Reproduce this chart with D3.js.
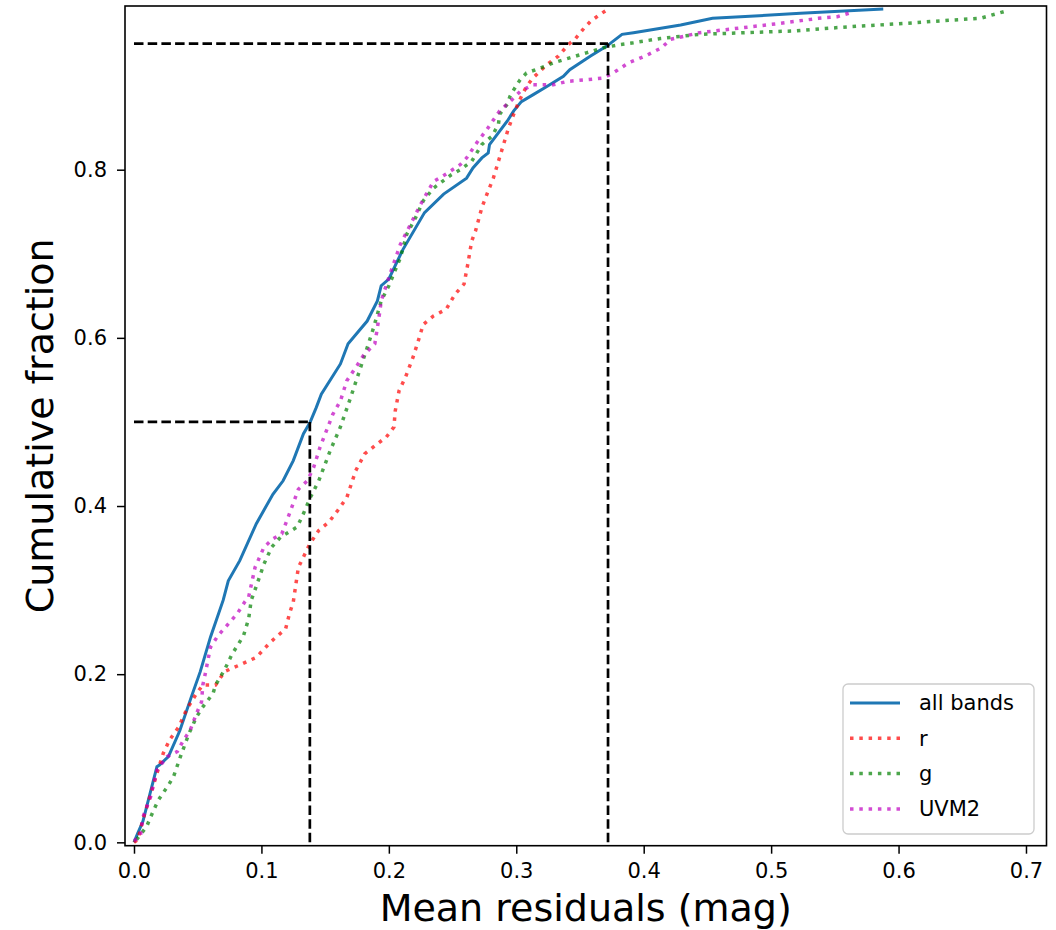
<!DOCTYPE html>
<html>
<head>
<meta charset="utf-8">
<script src="https://cdn.jsdelivr.net/npm/d3@7"></script>
<style>
  body { margin: 0; background: #fff; }
  svg { display: block; font-family: "DejaVu Sans", sans-serif; }
</style>
</head>
<body>
<div id="chart"></div>
<script>
// cumulative fraction vs mean residual
const allBands = [[0,0],[0.003,0.011],[0.007,0.025],[0.018,0.090],[0.020,0.092],[0.027,0.102],[0.036,0.133],[0.045,0.173],[0.052,0.203],[0.060,0.244],[0.070,0.288],[0.074,0.311],[0.083,0.335],[0.096,0.379],[0.109,0.414],[0.117,0.430],[0.125,0.454],[0.133,0.486],[0.138,0.499],[0.143,0.517],[0.147,0.533],[0.162,0.569],[0.168,0.593],[0.183,0.620],[0.191,0.644],[0.194,0.662],[0.200,0.670],[0.211,0.705],[0.228,0.749],[0.243,0.771],[0.261,0.790],[0.266,0.802],[0.273,0.814],[0.278,0.820],[0.279,0.830],[0.293,0.858],[0.298,0.870],[0.304,0.881],[0.313,0.889],[0.324,0.899],[0.337,0.911],[0.342,0.919],[0.358,0.935],[0.371,0.947],[0.383,0.961],[0.392,0.963],[0.429,0.972],[0.454,0.980],[0.523,0.986],[0.588,0.991]];
const rBand = [[0,0],[0.003,0.003],[0.007,0.027],[0.018,0.082],[0.023,0.106],[0.028,0.122],[0.035,0.137],[0.041,0.157],[0.049,0.177],[0.054,0.187],[0.064,0.187],[0.071,0.203],[0.083,0.211],[0.096,0.220],[0.107,0.238],[0.119,0.254],[0.122,0.272],[0.125,0.286],[0.129,0.327],[0.138,0.355],[0.145,0.371],[0.153,0.381],[0.160,0.395],[0.167,0.410],[0.174,0.442],[0.181,0.462],[0.191,0.474],[0.198,0.482],[0.204,0.494],[0.205,0.513],[0.208,0.537],[0.213,0.553],[0.219,0.577],[0.223,0.596],[0.227,0.616],[0.235,0.626],[0.245,0.634],[0.252,0.652],[0.259,0.664],[0.262,0.688],[0.265,0.715],[0.268,0.727],[0.273,0.755],[0.277,0.771],[0.282,0.790],[0.286,0.810],[0.290,0.830],[0.294,0.850],[0.298,0.866],[0.302,0.881],[0.308,0.899],[0.313,0.909],[0.324,0.925],[0.333,0.935],[0.341,0.949],[0.346,0.955],[0.353,0.968],[0.358,0.976],[0.365,0.984],[0.371,0.990]];
const gBand = [[0.002,0.003],[0.010,0.019],[0.013,0.030],[0.019,0.050],[0.027,0.068],[0.031,0.078],[0.036,0.100],[0.043,0.129],[0.049,0.149],[0.053,0.159],[0.062,0.177],[0.064,0.187],[0.071,0.205],[0.077,0.224],[0.082,0.236],[0.086,0.246],[0.090,0.266],[0.092,0.288],[0.094,0.296],[0.102,0.331],[0.108,0.351],[0.115,0.363],[0.128,0.375],[0.133,0.391],[0.138,0.409],[0.145,0.430],[0.154,0.466],[0.162,0.494],[0.170,0.529],[0.177,0.561],[0.184,0.593],[0.188,0.612],[0.194,0.644],[0.200,0.662],[0.209,0.695],[0.214,0.723],[0.221,0.743],[0.227,0.763],[0.235,0.778],[0.249,0.794],[0.256,0.800],[0.265,0.810],[0.273,0.830],[0.281,0.840],[0.286,0.854],[0.287,0.866],[0.293,0.878],[0.295,0.887],[0.298,0.895],[0.303,0.907],[0.308,0.915],[0.319,0.921],[0.329,0.927],[0.342,0.933],[0.355,0.939],[0.368,0.945],[0.382,0.949],[0.392,0.951],[0.413,0.956],[0.444,0.961],[0.517,0.965],[0.561,0.970],[0.605,0.974],[0.642,0.978],[0.664,0.980],[0.671,0.983],[0.678,0.986],[0.685,0.989]];
const uvm2Band = [[0,0.002],[0.005,0.007],[0.007,0.030],[0.013,0.054],[0.018,0.086],[0.026,0.102],[0.034,0.108],[0.039,0.122],[0.044,0.133],[0.049,0.153],[0.053,0.167],[0.054,0.187],[0.056,0.201],[0.060,0.232],[0.066,0.246],[0.073,0.258],[0.081,0.272],[0.087,0.286],[0.090,0.292],[0.095,0.327],[0.102,0.351],[0.109,0.361],[0.116,0.367],[0.122,0.391],[0.129,0.420],[0.136,0.430],[0.141,0.446],[0.146,0.470],[0.156,0.509],[0.162,0.525],[0.167,0.549],[0.175,0.567],[0.180,0.579],[0.189,0.593],[0.191,0.612],[0.193,0.632],[0.194,0.644],[0.200,0.672],[0.209,0.711],[0.217,0.735],[0.225,0.759],[0.235,0.786],[0.244,0.794],[0.256,0.806],[0.261,0.814],[0.269,0.832],[0.277,0.848],[0.287,0.870],[0.295,0.881],[0.303,0.893],[0.313,0.901],[0.329,0.901],[0.340,0.905],[0.355,0.907],[0.368,0.909],[0.376,0.915],[0.388,0.927],[0.401,0.935],[0.414,0.945],[0.421,0.955],[0.444,0.963],[0.507,0.974],[0.537,0.980],[0.552,0.982],[0.565,0.988]];

// dashed guide lines: fraction level -> residual
const guideLevels = [0.5, 0.95];
const guideResiduals = [0.138, 0.372];

const seriesNames = ["all bands", "r", "g", "UVM2"];
const seriesColors = ["#1f77b4", "#ff0000", "#008000", "#bf00bf"];
const xTicks = [0, 0.1, 0.2, 0.3, 0.4, 0.5, 0.6, 0.7];
const yTicks = [0, 0.2, 0.4, 0.6, 0.8];

const W = 1056, H = 930;
const margin = { top: 6, right: 9.5, bottom: 84.3, left: 125 };
const width = W - margin.left - margin.right,
  height = H - margin.top - margin.bottom;

const svg = d3.select("#chart").append("svg")
  .attr("width", W)
  .attr("height", H);

const g = svg.append("g")
  .attr("transform", "translate(" + margin.left + "," + margin.top + ")");

const x = d3.scaleLinear().domain([-0.00706, 0.7161]).range([0, width]);
const y = d3.scaleLinear().domain([-0.004, 0.9947]).range([height, 0]);

g.append("defs").append("clipPath")
  .attr("id", "clip")
  .append("rect")
  .attr("width", width)
  .attr("height", height);

const plot = g.append("g").attr("clip-path", "url(#clip)");

const line = d3.line()
  .x(d => x(d[0]))
  .y(d => y(d[1]));

const data = [allBands, rBand, gBand, uvm2Band];

// solid line first, dotted bands over it
data.forEach(function(d, i) {
  const p = plot.append("path")
    .datum(d)
    .attr("d", line)
    .attr("fill", "none")
    .attr("stroke", seriesColors[i]);
  if (i === 0) {
    p.attr("stroke-width", 3);
  } else {
    p.attr("stroke-width", 3.5)
      .attr("stroke-opacity", 0.7)
      .attr("stroke-dasharray", "3.5,5.8");
  }
});

// dashed guides
guideLevels.forEach(function(lv, i) {
  plot.append("line")
    .attr("x1", x(0)).attr("x2", x(guideResiduals[i]))
    .attr("y1", y(lv)).attr("y2", y(lv))
    .attr("stroke", "#000").attr("stroke-width", 2.7)
    .attr("stroke-dasharray", "9.5,4.2");
  plot.append("line")
    .attr("x1", x(guideResiduals[i])).attr("x2", x(guideResiduals[i]))
    .attr("y1", y(0)).attr("y2", y(lv))
    .attr("stroke", "#000").attr("stroke-width", 2.7)
    .attr("stroke-dasharray", "9.5,4.2");
});

// axes
const xAxis = d3.axisBottom(x).tickValues(xTicks).tickFormat(d3.format(".1f"))
  .tickSize(8).tickPadding(9.5).tickSizeOuter(0);
const yAxis = d3.axisLeft(y).tickValues(yTicks).tickFormat(d3.format(".1f"))
  .tickSize(8).tickPadding(10).tickSizeOuter(0);

const xg = g.append("g").attr("transform", "translate(0," + height + ")").call(xAxis);
const yg = g.append("g").call(yAxis);
[xg, yg].forEach(function(a) {
  a.select(".domain").remove();
  a.selectAll(".tick line").attr("stroke", "#000").attr("stroke-width", 1.5);
  a.selectAll(".tick text").attr("fill", "#000")
    .style("font-size", "21px").style("font-family", "DejaVu Sans");
});

// frame
g.append("rect")
  .attr("width", width).attr("height", height)
  .attr("fill", "none").attr("stroke", "#000").attr("stroke-width", 1.6);

// axis labels
svg.append("text")
  .attr("x", margin.left + width / 2)
  .attr("y", 921)
  .attr("text-anchor", "middle")
  .style("font-size", "38px")
  .text("Mean residuals (mag)");

svg.append("text")
  .attr("transform", "translate(53," + (margin.top + height / 2) + ") rotate(-90)")
  .attr("text-anchor", "middle")
  .style("font-size", "38px")
  .text("Cumulative fraction");

// legend
const legend = svg.append("g").attr("transform", "translate(843,684)");
legend.append("rect")
  .attr("width", 191).attr("height", 150)
  .attr("rx", 5).attr("ry", 5)
  .attr("fill", "#fff").attr("fill-opacity", 0.8)
  .attr("stroke", "#cccccc").attr("stroke-width", 1.3);

const rows = legend.selectAll(".row")
  .data(seriesNames)
  .enter().append("g")
  .attr("class", "row")
  .attr("transform", (d, i) => "translate(0," + (19 + i * 35.3) + ")");

rows.append("line")
  .attr("x1", 7).attr("x2", 57)
  .attr("stroke", (d, i) => seriesColors[i])
  .attr("stroke-width", (d, i) => i === 0 ? 3 : 3.5)
  .attr("stroke-opacity", (d, i) => i === 0 ? 1 : 0.7)
  .attr("stroke-dasharray", (d, i) => i === 0 ? null : "3.5,5.8");

rows.append("text")
  .attr("x", 76)
  .attr("dy", "0.35em")
  .style("font-size", "21px")
  .attr("fill", "#000")
  .text(d => d);
</script>
</body>
</html>
